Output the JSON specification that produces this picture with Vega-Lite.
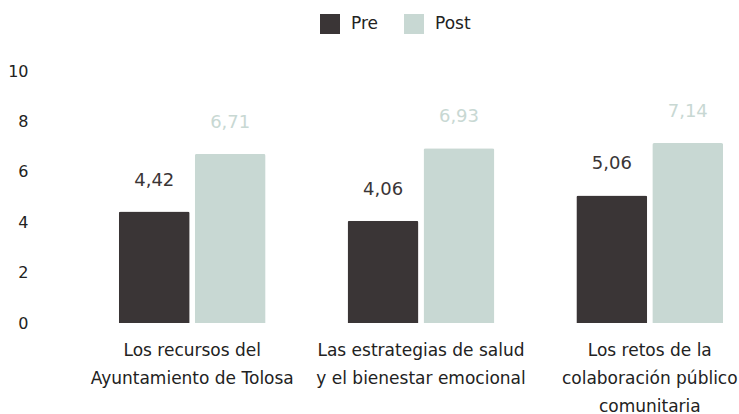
{
  "$schema": "https://vega.github.io/schema/vega-lite/v6.json",
  "width": 636,
  "height": 252,
  "autosize": {"type": "none"},
  "padding": {"left": 103, "top": 71, "right": 0, "bottom": 91},
  "background": "white",
  "config": {
    "view": {"stroke": null},
    "font": "DejaVu Sans",
    "locale": {"number": {"decimal": ",", "thousands": ".", "grouping": [3], "currency": ["", " €"]}}
  },
  "data": {
    "values": [
      {"category": "Los recursos del|Ayuntamiento de Tolosa", "series": "Pre", "value": 4.42},
      {"category": "Los recursos del|Ayuntamiento de Tolosa", "series": "Post", "value": 6.71},
      {"category": "Las estrategias de salud|y el bienestar emocional", "series": "Pre", "value": 4.06},
      {"category": "Las estrategias de salud|y el bienestar emocional", "series": "Post", "value": 6.93},
      {"category": "Los retos de la|colaboración público|comunitaria", "series": "Pre", "value": 5.06},
      {"category": "Los retos de la|colaboración público|comunitaria", "series": "Post", "value": 7.14}
    ]
  },
  "encoding": {
    "x": {
      "field": "category", "type": "nominal", "sort": null,
      "scale": {"paddingInner": 0.22, "paddingOuter": 0},
      "axis": {
        "title": null, "labelAngle": 0, "domain": false, "ticks": false,
        "labelExpr": "split(datum.label, '|')",
        "labelFontSize": 17, "labelColor": "#222222", "labelPadding": 19,
        "labelLineHeight": 28, "labelLimit": 0
      }
    },
    "xOffset": {"field": "series", "sort": ["Pre", "Post"], "scale": {"paddingInner": 0.066, "paddingOuter": 0.208}},
    "y": {
      "field": "value", "type": "quantitative",
      "scale": {"domain": [0, 10]},
      "axis": {
        "title": null, "domain": false, "ticks": false, "grid": false,
        "values": [0, 2, 4, 6, 8, 10], "labelFontSize": 16, "labelColor": "#222222",
        "offset": 70, "labelPadding": 5
      }
    },
    "color": {
      "field": "series", "type": "nominal",
      "scale": {"domain": ["Pre", "Post"], "range": ["#3a3536", "#c8d8d3"]}
    }
  },
  "layer": [
    {
      "mark": {"type": "bar", "cornerRadiusTopLeft": 2, "cornerRadiusTopRight": 2},
      "encoding": {
        "color": {
          "field": "series", "type": "nominal",
          "scale": {"domain": ["Pre", "Post"], "range": ["#3a3536", "#c8d8d3"]},
          "legend": {
            "orient": "none", "legendX": 217, "legendY": -57, "direction": "horizontal",
            "title": null, "symbolType": "square", "symbolSize": 400, "symbolStrokeWidth": 0,
            "labelFontSize": 17, "labelColor": "#222222", "labelOffset": 11, "columnPadding": 25,
            "labelBaseline": "middle"
          }
        }
      }
    },
    {
      "mark": {"type": "text", "baseline": "middle", "dy": -31, "fontSize": 18},
      "encoding": {
        "text": {"field": "value", "type": "quantitative", "format": ".2f"}
      }
    }
  ]
}
